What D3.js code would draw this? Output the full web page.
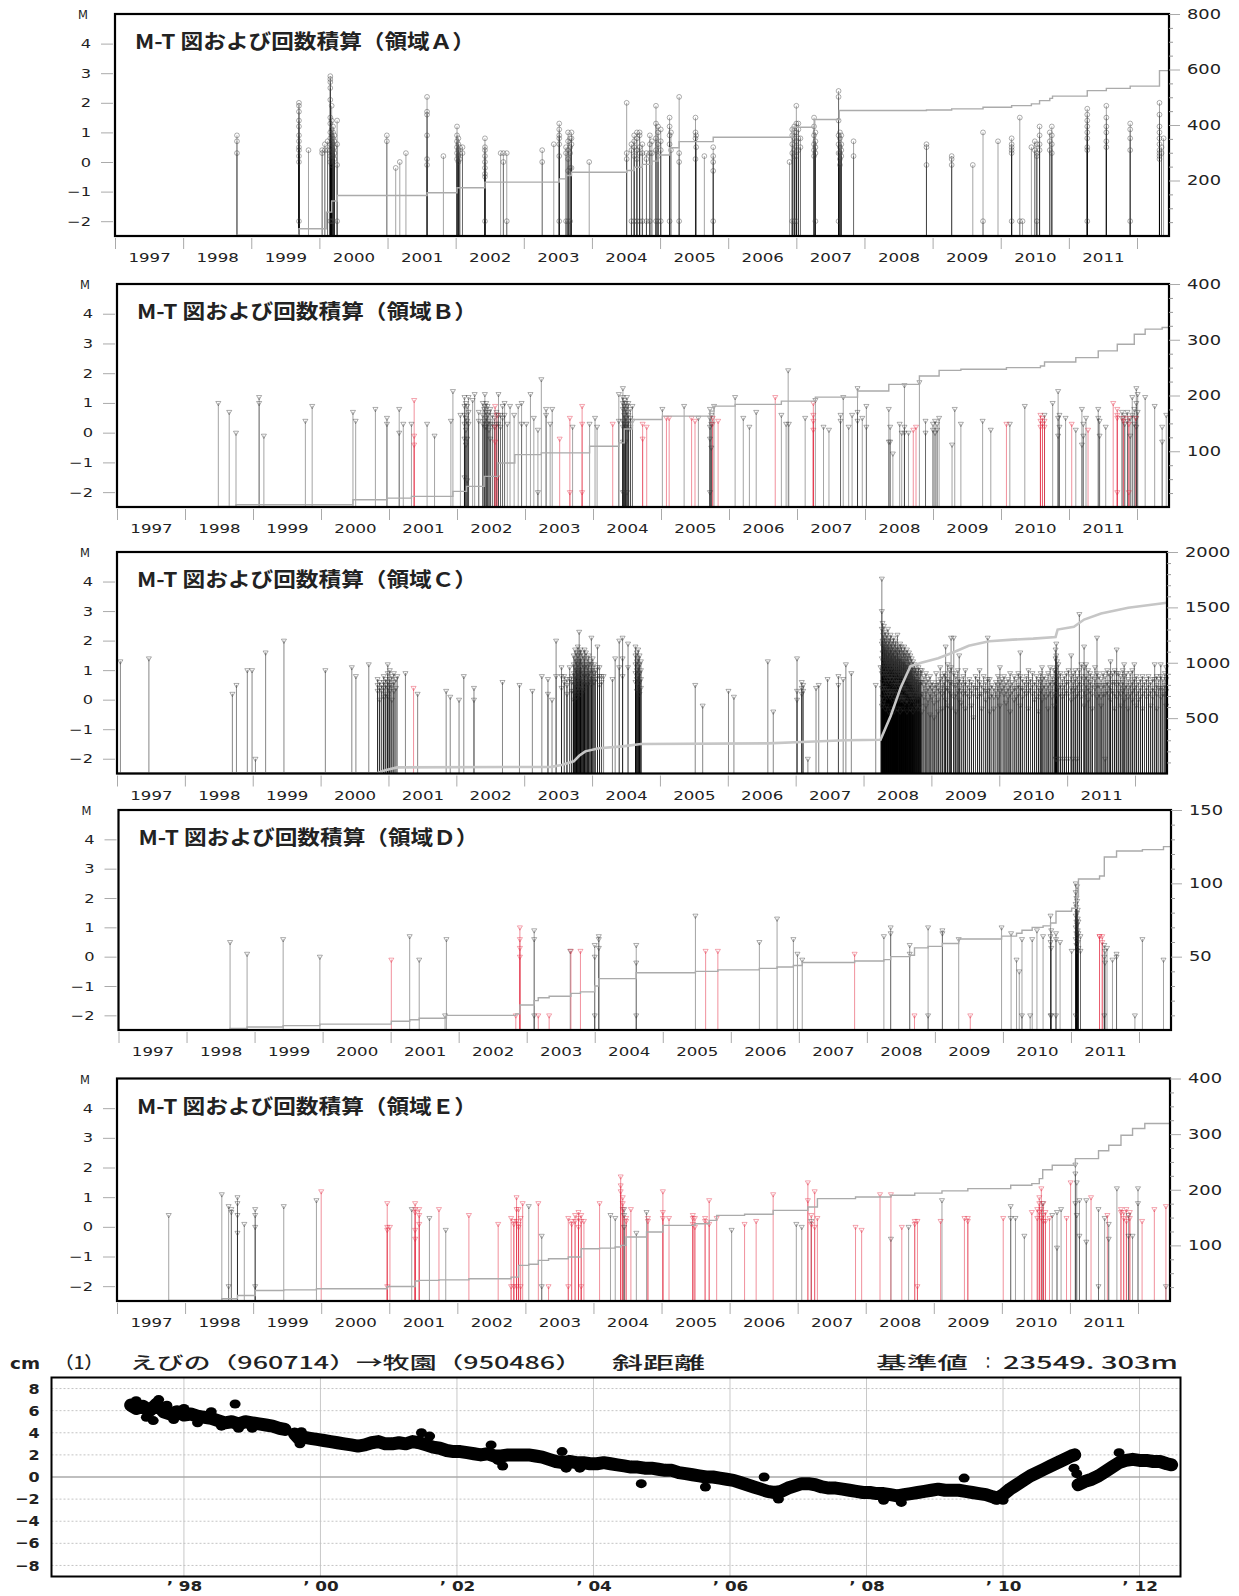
<!DOCTYPE html>
<html>
<head>
<meta charset="utf-8">
<title>M-T図および回数積算</title>
<script src="https://cdn.jsdelivr.net/npm/d3@7"></script>
<style>
  body { margin: 0; background: #fff; }
  svg { display: block; }
  text { font-family: "DejaVu Sans", sans-serif; fill: #222; }
  .jp { font-family: "Noto Sans CJK JP", sans-serif; }
</style>
</head>
<body>
<div id="chartArea"></div>
<script>
// ---- tick labels ----
var yearTicks = [1997,1998,1999,2000,2001,2002,2003,2004,2005,2006,2007,2008,2009,2010,2011,2012];
var yearLabels = [1997,1998,1999,2000,2001,2002,2003,2004,2005,2006,2007,2008,2009,2010,2011];
var mTicks = [-2,-1,0,1,2,3,4];
var regionNames = ['Ａ','Ｂ','Ｃ','Ｄ','Ｅ'];
var cumTicksA = [200,400,600,800];
var cumTicksB = [100,200,300,400];
var cumTicksC = [500,1000,1500,2000];
var cumTicksD = [50,100,150];
var cumTicksE = [100,200,300,400];
var gpsTicks = [-8,-6,-4,-2,0,2,4,6,8];
var gpsYears = [1998,2000,2002,2004,2006,2008,2010,2012];

// ---- events: [decimal year, [magnitudes of events at that time]] ----
var eventsA = [
 [1998.79,[0.9,0.7,0.3]],
 [1999.70,[2.0,1.9,1.7,1.4,1.2,0.9,0.7,0.5,0.4,0.2,0.0,-2.0]],
 [1999.84,[0.4]],[2000.04,[0.4,0.3]],[2000.08,[0.4,0.6]],[2000.12,[0.7,0.4]],
 [2000.16,[2.9,2.8,2.7,2.5,2.1,1.5,1.3,1.0,0.8,0.6,0.4,0.2,0.0,-2.0]],
 [2000.18,[1.9,1.4,1.1,0.9,0.7,0.5,0.3,0.1,-0.1,-2.0]],
 [2000.20,[1.2,1.0,0.8,0.6,0.4,0.2,-2.0]],
 [2000.22,[0.9,0.7,0.5,0.3,0.1]],
 [2000.26,[1.4,0.6,-0.1,-2.0]],
 [2000.99,[0.9,0.7]],[2001.12,[-0.2]],[2001.18,[0.0]],[2001.27,[0.3]],
 [2001.58,[2.2,1.7,1.6,0.9,0.1,-0.1]],[2001.82,[0.2]],
 [2002.02,[1.2,0.9,0.7,0.5,0.3,0.1]],[2002.04,[0.8,0.6,0.4,0.2,0.0]],[2002.06,[0.5,0.3,0.1]],[2002.10,[0.5,0.3]],
 [2002.43,[0.8,0.5,0.4,0.2,0.0,-0.2,-0.4,-0.5,-2.0]],
 [2002.66,[0.3]],[2002.70,[0.3,0.0]],[2002.75,[0.3,-2.0]],
 [2003.27,[0.4,0.0]],[2003.44,[0.6]],[2003.52,[1.3,1.1,0.9,0.8,0.6,0.2,-2.0]],
 [2003.62,[0.5,0.3,-2.0]],[2003.65,[1.0,0.7,0.4,0.1,-0.3,-2.0]],[2003.68,[0.8,0.5,0.3,-0.2,-2.0]],[2003.70,[1.0,0.8,0.6,-0.2]],
 [2003.96,[0.0]],
 [2004.51,[2.0,0.3,0.1]],[2004.58,[0.6,0.4,-2.0]],[2004.62,[0.9,0.7,0.5,0.2,-2.0]],[2004.66,[1.0,0.8,0.4,0.1,-2.0]],
 [2004.70,[1.0,0.9,0.5,0.3,-2.0]],[2004.74,[0.6,0.3,-2.0]],[2004.80,[0.3,0.1,-2.0]],[2004.85,[0.9,0.6,0.3,-2.0]],
 [2004.88,[0.7,0.3]],[2004.94,[1.9,1.3,0.8,0.4,-2.0]],[2004.97,[1.2,1.0,0.6,0.2,-2.0]],[2005.01,[1.1,0.7,0.4,-2.0]],
 [2005.14,[1.5,1.2,0.9,0.6,-2.0]],[2005.16,[1.0,0.4]],[2005.28,[2.2,0.3,0.0,-2.0]],
 [2005.52,[1.5,1.0,0.8,0.1]],[2005.53,[0.9,0.5]],[2005.65,[0.2]],[2005.78,[0.5,0.2,0.0,-0.3,-2.0]],
 [2006.90,[0.0]],[2006.94,[1.1,0.9,0.6,0.3,-2.0]],[2006.97,[1.2,1.0,0.8,0.4,0.2,-2.0]],
 [2007.00,[1.9,1.3,1.0,0.7,0.5,0.2,-2.0]],[2007.03,[1.3,1.1,0.8,0.4]],[2007.06,[0.8,0.5]],
 [2007.26,[1.5,1.2,0.9,0.6,0.4,0.2]],[2007.28,[1.0,0.7,0.5,0.3,-2.0]],
 [2007.62,[2.4,2.2,1.4,0.9,0.6,0.3,-2.0]],[2007.64,[1.0,0.8,0.5,0.3,0.1,-0.1]],[2007.66,[0.9,0.6,0.4,0.2]],
 [2007.84,[0.7,0.2]],
 [2008.91,[0.6,0.5,-0.1]],[2009.28,[0.2,0.1,-0.1]],[2009.59,[-0.1]],[2009.74,[1.0,-2.0]],[2009.96,[0.7]],
 [2010.16,[0.8,0.6,0.5,0.4,0.3,-2.0]],[2010.28,[1.5,-2.0]],[2010.32,[-2.0]],
 [2010.45,[0.5]],[2010.50,[0.7,0.4]],[2010.53,[0.6,0.3,0.2,-2.0]],[2010.57,[1.2,0.9,0.6,0.4]],
 [2010.72,[1.0,0.7,0.4]],[2010.75,[1.2,0.9,0.6,0.3]],
 [2011.27,[1.8,1.6,1.4,1.2,1.0,0.8,0.5,0.4,-2.0]],
 [2011.55,[1.9,1.5,1.2,1.0,0.7,0.5]],
 [2011.90,[1.3,1.1,0.8,0.4,-2.0]],
 [2012.33,[2.0,1.6,1.2,1.0,0.8,0.6,0.4,0.3,0.2,0.1]],[2012.36,[0.5,0.3]],[2012.39,[0.8]]
];
var eventsARed = [];

var eventsB = [
 [1998.49,[1.0]],[1998.65,[0.7]],[1998.75,[0.0]],[1999.09,[1.2,1.0]],[1999.16,[-0.1]],
 [1999.77,[0.4]],[1999.87,[0.9]],[2000.47,[0.7]],[2000.51,[0.4]],[2000.80,[0.8]],
 [2000.97,[0.5,0.3]],[2001.15,[0.8,0.0]],[2001.21,[0.3]],[2001.33,[0.3]],[2001.56,[0.3]],
 [2001.67,[-0.1]],[2001.91,[0.4]],[2001.94,[1.4]],[2002.05,[0.6]],
 [2002.11,[1.2,0.9,0.6,0.3,-0.2,-1.5]],[2002.13,[1.0,0.5,0.1,-0.4]],[2002.15,[0.9,0.4,-0.2,-1.6]],[2002.17,[1.2,0.7,0.3]],
 [2002.23,[1.1]],[2002.26,[1.3]],[2002.32,[0.7,0.4]],
 [2002.38,[1.0,0.6,0.3]],[2002.40,[0.8,0.4]],[2002.41,[1.3,0.9,0.2]],[2002.43,[1.0,0.7,0.5,0.2]],[2002.45,[0.9,0.6,0.3]],
 [2002.47,[0.7,0.4,0.1]],[2002.49,[0.8,0.3,-0.2]],[2002.52,[0.6,0.3]],[2002.55,[0.5,0.2]],[2002.58,[0.7,0.3]],
 [2002.61,[1.3,0.6,0.3]],[2002.64,[0.6,0.2]],[2002.67,[0.9,0.5]],[2002.70,[1.0,0.6]],[2002.74,[0.3]],[2002.78,[0.9]],[2002.84,[0.6]],
 [2002.90,[0.9]],[2002.95,[1.0,0.3]],[2003.02,[0.3]],[2003.08,[1.3]],[2003.13,[0.5]],[2003.19,[0.1,-2.0]],[2003.24,[1.8]],
 [2003.31,[0.8,0.6]],[2003.37,[0.3]],[2003.40,[0.8]],[2003.70,[0.2]],[2003.95,[0.3]],[2004.03,[0.5]],[2004.06,[0.2]],
 [2004.38,[1.3,0.4]],[2004.44,[1.5,1.2,1.0,0.8,0.4,0.2,-0.3,-2.0]],[2004.46,[1.1,0.9,0.6,0.3,-2.0]],[2004.48,[1.0,0.8,0.5,0.2,-0.3]],
 [2004.50,[1.2,0.9,0.7,0.3,-2.0]],[2004.52,[1.0,0.6,0.4,0.1]],[2004.55,[0.8,0.5,0.2]],[2004.58,[0.9,0.4]],
 [2005.02,[0.8]],[2005.34,[0.9]],[2005.55,[0.5]],[2005.72,[0.8,0.5,0.2,-0.2,-2.0]],[2005.74,[0.6,0.3,-0.5]],[2005.78,[0.9]],
 [2006.09,[1.2]],[2006.21,[0.5]],[2006.30,[0.2]],[2006.40,[0.7]],[2006.77,[0.6]],[2006.84,[0.3]],[2006.87,[2.1]],[2006.88,[0.3]],
 [2007.12,[0.5]],[2007.27,[1.1]],[2007.39,[0.2]],[2007.47,[0.1]],[2007.64,[0.6,0.4]],[2007.68,[1.2]],[2007.76,[0.2]],
 [2007.81,[0.6]],[2007.89,[1.5,0.7,0.4]],[2007.96,[0.5]],[2008.02,[0.9,0.2]],
 [2008.35,[0.8,-0.3]],[2008.37,[0.2,-0.3]],[2008.41,[-0.7]],[2008.51,[0.3]],[2008.54,[0.0]],[2008.58,[1.6,0.2,0.0]],
 [2008.64,[0.0]],[2008.80,[1.7]],[2008.89,[0.4,0.0]],
 [2009.00,[0.3,0.1]],[2009.03,[0.4,0.0]],[2009.06,[0.3,0.1]],[2009.09,[0.5]],[2009.28,[-0.4]],[2009.32,[0.8]],[2009.41,[0.3]],
 [2009.73,[0.4]],[2009.85,[0.1]],[2010.13,[0.3]],[2010.35,[0.9]],[2010.64,[0.6]],[2010.76,[1.0]],[2010.84,[1.4,0.5,-0.1]],
 [2010.86,[0.6,0.2]],[2010.95,[0.5]],[2011.10,[0.1]],[2011.19,[0.8,-0.4]],[2011.21,[0.3,-0.1]],[2011.25,[0.5]],
 [2011.43,[0.8,0.5]],[2011.45,[0.4,-0.1]],[2011.54,[0.2]],
 [2011.78,[0.7,0.5]],[2011.82,[0.6,0.3]],[2011.86,[0.7,0.4]],[2011.90,[0.5,-0.1]],[2011.93,[1.2,0.6]],[2011.96,[0.8,0.3]],
 [2011.99,[1.5,1.0,0.5,0.2]],[2012.01,[1.3,0.7]],[2012.12,[1.2]],[2012.26,[0.9]],[2012.37,[0.2,-0.3]],[2012.43,[0.6]]
];
var eventsBRed = [
 [2001.37,[1.1,-0.1,-0.4]],[2002.56,[0.9,0.2,-0.3]],[2002.59,[0.6,-1.5]],[2003.51,[-0.2]],[2003.66,[0.5,-2.0]],
 [2003.84,[0.9,0.3,-2.0]],[2004.29,[0.3]],[2004.73,[0.3,-0.2]],[2004.79,[0.2]],[2005.08,[0.5]],[2005.12,[0.5]],
 [2005.45,[0.5]],[2005.50,[0.4]],[2005.76,[0.5,0.3]],[2005.84,[0.4]],[2006.68,[1.2]],[2007.24,[1.0,0.6,0.4,0.1]],
 [2008.71,[0.1]],[2008.75,[0.2]],[2010.08,[0.3]],[2010.58,[0.6,0.4,0.2]],[2010.61,[0.5,0.3]],[2010.64,[0.4,0.2]],
 [2011.04,[0.3]],[2011.28,[0.1]],[2011.65,[1.0]],[2011.71,[0.8,0.6,0.5,-2.0]],[2011.80,[0.5,0.4]],
 [2011.88,[0.5,0.3,-2.0]],[2011.98,[0.5]]
];

var eventsC = [
 [1997.05,[1.3]],[1997.47,[1.4]],[1998.70,[0.2]],[1998.76,[0.5]],[1998.92,[1.0]],[1998.99,[1.0]],[1999.04,[-2.0]],
 [1999.19,[1.6]],[1999.46,[2.0]],[2000.07,[1.0]],[2000.46,[1.1]],[2000.52,[0.8]],[2000.71,[1.2]],
 [2000.84,[0.7,0.5,0.3]],[2000.87,[0.6,0.4,0.0]],[2000.90,[0.5,0.3]],[2000.93,[0.8,0.6,0.4,0.1]],[2000.96,[0.7,0.5,0.2]],
 [2000.99,[1.2,0.9,0.6,0.4,0.1]],[2001.02,[1.0,0.7,0.5,0.3]],[2001.05,[0.8,0.5,0.0]],[2001.08,[0.9,0.6,0.3]],
 [2001.11,[0.7,0.4]],[2001.13,[0.8]],
 [2001.25,[0.9]],[2001.43,[0.2]],[2001.85,[0.3]],[2001.91,[0.1]],[2002.04,[0.0]],[2002.11,[0.8]],[2002.26,[0.4,0.0]],
 [2002.68,[0.6]],[2002.93,[0.5]],[2003.12,[0.3]],[2003.26,[0.8]],[2003.35,[0.7,0.2]],[2003.41,[0.0]],[2003.47,[2.0,0.8]],
 [2003.55,[1.1,0.8,0.4]],[2003.59,[0.8,0.6]],[2003.63,[0.7,0.5,0.2]],[2003.67,[1.1,0.7]],[2003.70,[0.8,0.6,0.3]],
 [2003.73,[1.5,1.2,0.9,0.6,0.3,0.0]],[2003.75,[1.7,1.4,1.1,0.8,0.5,0.2]],[2003.77,[1.6,1.3,1.0,0.7,0.4,0.1]],
 [2003.79,[1.8,1.5,1.2,0.9,0.6,0.3]],[2003.81,[2.3,1.6,1.3,1.0,0.7,0.4]],[2003.83,[1.7,1.4,1.1,0.8,0.5,0.2]],
 [2003.85,[1.6,1.3,1.0,0.7,0.4]],[2003.87,[1.5,1.2,0.9,0.6,0.3]],[2003.89,[1.7,1.4,1.1,0.8,0.5]],[2003.91,[1.6,1.2,0.9,0.6]],
 [2003.93,[1.4,1.1,0.8,0.5]],[2003.95,[1.5,1.2,0.9,0.6]],[2003.97,[1.3,1.0,0.7]],[2003.99,[2.1,1.2,0.8,0.5]],
 [2004.01,[1.4,1.0,0.7]],[2004.03,[1.2,0.9,0.6]],[2004.05,[1.0,0.7]],[2004.08,[1.8,1.1,0.8]],[2004.11,[1.1,0.8,0.5]],
 [2004.14,[0.8,0.6]],[2004.17,[0.8]],
 [2004.30,[0.7]],[2004.34,[1.4]],[2004.40,[2.0,1.1]],[2004.45,[2.1,1.4,0.8]],[2004.53,[1.9,1.1]],
 [2004.64,[1.8,1.5,1.2,0.9,0.6]],[2004.66,[1.6,1.3,1.0,0.7,0.3]],[2004.68,[1.7,1.4,1.1,0.8,0.5]],
 [2004.70,[1.5,1.2,0.9,0.6,0.2]],[2004.72,[1.3,1.0,0.7,0.4]],
 [2005.52,[0.5]],[2005.63,[-0.2]],[2006.01,[0.3]],[2006.09,[0.1]],[2006.59,[1.3]],[2006.67,[-0.4]],
 [2007.02,[1.4,0.3,0.0]],[2007.09,[0.6,0.4,0.2]],[2007.11,[0.5,0.3]],[2007.18,[-2.0]],[2007.30,[0.4]],[2007.34,[0.5]],
 [2007.47,[0.7]],[2007.63,[0.8,0.5]],[2007.70,[0.7]],[2007.74,[1.2]],[2007.82,[0.9]],[2008.18,[0.5]],[2008.25,[1.1]],
 [2008.27,[4.1,3.0,2.4,1.9,1.4,0.9,0.4,-0.2]],[2008.28,[2.6,2.0,1.6,1.1,0.6,0.1]],[2008.29,[2.2,1.8,1.3,0.9,0.4,-0.1]],
 [2008.30,[2.5,1.9,1.4,1.0,0.5,0.0]],[2008.31,[2.1,1.7,1.2,0.8,0.3]],[2008.32,[2.3,1.8,1.3,0.9,0.4,-0.3]],
 [2008.33,[2.0,1.6,1.1,0.7,0.2]],[2008.34,[2.2,1.7,1.2,0.8,0.3,-0.2]],[2008.35,[1.9,1.5,1.0,0.6,0.1]],
 [2008.36,[2.4,1.8,1.3,0.9,0.4]],[2008.37,[2.0,1.6,1.1,0.7,0.2,-0.4]],[2008.38,[2.1,1.6,1.2,0.8,0.3]],
 [2008.39,[1.8,1.4,1.0,0.6,0.1]],[2008.40,[2.2,1.7,1.2,0.8,0.3,-0.3]],[2008.41,[1.9,1.5,1.1,0.7,0.2]],
 [2008.42,[2.0,1.6,1.1,0.7,0.3]],[2008.43,[1.8,1.4,1.0,0.5,0.0]],[2008.44,[2.1,1.6,1.2,0.8,0.3]],
 [2008.45,[1.7,1.3,0.9,0.5,0.1,-0.4]],[2008.46,[1.9,1.5,1.0,0.6,0.2]],[2008.47,[2.0,1.5,1.1,0.7,0.3]],
 [2008.48,[1.7,1.3,0.9,0.5,0.0]],[2008.49,[1.8,1.4,1.0,0.6,0.2]],[2008.50,[2.2,1.6,1.1,0.7,0.3,-0.3]],
 [2008.51,[1.6,1.2,0.8,0.4,0.0]],[2008.52,[1.8,1.4,1.0,0.6,0.2]],[2008.53,[1.7,1.3,0.9,0.5,0.1]],
 [2008.54,[1.9,1.4,1.0,0.6,0.2,-0.4]],[2008.55,[1.6,1.2,0.8,0.4,0.0]],[2008.56,[1.8,1.3,0.9,0.5,0.1]],
 [2008.57,[1.5,1.1,0.8,0.4,0.0]],[2008.58,[1.7,1.3,0.9,0.5,0.1,-0.3]],[2008.59,[1.6,1.2,0.8,0.4]],
 [2008.60,[1.8,1.3,0.9,0.5,0.1]],[2008.61,[1.5,1.1,0.7,0.3,-0.1]],[2008.62,[1.6,1.2,0.8,0.4,0.0]],
 [2008.63,[1.4,1.0,0.7,0.3]],[2008.64,[1.7,1.2,0.8,0.4,0.0,-0.4]],[2008.65,[1.5,1.1,0.7,0.3]],
 [2008.66,[1.4,1.0,0.6,0.2]],[2008.67,[1.6,1.1,0.7,0.3,-0.1]],[2008.68,[1.3,0.9,0.6,0.2]],
 [2008.69,[1.5,1.0,0.6,0.2,-0.3]],[2008.70,[1.2,0.9,0.5,0.1]],[2008.71,[1.4,1.0,0.6,0.2]],
 [2008.72,[1.1,0.8,0.4,0.0]],[2008.73,[1.3,0.9,0.5,0.1,-0.4]],[2008.74,[1.0,0.7,0.3]],
 [2008.75,[1.2,0.8,0.4,0.0]],[2008.76,[1.0,0.6,0.2]],[2008.77,[1.1,0.7,0.3,-0.2]],[2008.78,[0.9,0.6,0.2]],
 [2008.79,[1.0,0.7,0.3]],[2008.80,[0.9,0.5,0.1,-0.3]],[2008.81,[1.1,0.6,0.2]],[2008.82,[0.8,0.5,0.1]],
 [2008.83,[0.9,0.6,0.2,-0.2]],[2008.84,[1.0,0.6,0.2]],
 [2008.86,[1.0,0.6,0.2,-0.4]],[2008.89,[0.8,0.5,0.1]],[2008.92,[0.9,0.6,0.3,-0.2]],[2008.95,[0.7,0.4,0.0]],
 [2008.98,[0.8,0.5,0.2,-0.5]],[2009.01,[0.6,0.4,0.1]],[2009.04,[0.5,0.3,-0.1,-0.6]],[2009.07,[0.9,0.5,0.2]],
 [2009.10,[0.6,0.4,0.0,-0.4]],[2009.13,[1.1,0.7,0.3]],[2009.16,[0.8,0.5,0.2,-0.3]],[2009.19,[0.9,0.6,0.3]],
 [2009.21,[1.8,0.8,0.4,0.0]],[2009.24,[1.2,0.7,0.4,-0.2]],[2009.27,[1.0,0.6,0.3]],[2009.29,[2.1,1.1,0.6,0.2,-0.3]],
 [2009.33,[2.1,0.9,0.5,0.1]],[2009.36,[0.8,0.5,0.2,-0.4]],[2009.39,[1.0,0.6,0.3]],[2009.41,[1.5,0.7,0.4,0.0]],
 [2009.44,[0.6,0.3,-0.1]],[2009.47,[0.8,0.5,0.2]],[2009.50,[1.0,0.6,0.3,-0.3]],[2009.53,[0.5,0.2]],
 [2009.56,[0.7,0.4,0.1]],[2009.59,[0.6,0.3,-0.2]],[2009.62,[0.5,0.2,-0.6]],[2009.65,[0.8,0.4]],
 [2009.68,[0.7,0.4,0.1]],[2009.71,[1.0,0.6,0.2]],[2009.74,[0.5,0.2,-0.3]],[2009.77,[0.8,0.4]],
 [2009.80,[0.6,0.3,0.0]],[2009.83,[2.1,0.7,0.3]],[2009.86,[0.7,0.4,0.1,-0.4]],[2009.89,[0.5,0.2]],
 [2009.92,[0.4,0.1,-0.3]],[2009.95,[0.6,0.3]],[2009.98,[0.8,0.5,0.1]],[2010.01,[1.1,0.6,0.3,-0.2]],
 [2010.04,[0.7,0.4]],[2010.07,[0.8,0.5,0.2]],[2010.10,[0.6,0.3,-0.1]],[2010.13,[0.7,0.4,0.1]],
 [2010.16,[0.9,0.5,0.2,-0.4]],[2010.19,[0.6,0.3]],[2010.22,[0.8,0.4,0.0]],[2010.25,[0.7,0.4,0.1]],
 [2010.28,[0.9,0.5,0.2]],[2010.31,[1.6,0.8,0.4,-0.2]],[2010.34,[0.7,0.4,0.1]],[2010.37,[0.6,0.3]],
 [2010.40,[0.8,0.5,0.2]],[2010.43,[1.0,0.6,0.3,-0.3]],[2010.46,[0.7,0.4]],[2010.49,[0.9,0.5,0.2]],
 [2010.52,[0.6,0.3,0.0]],[2010.55,[0.8,0.5,0.1]],[2010.58,[0.7,0.4,0.2,-0.4]],[2010.61,[0.9,0.6,0.3]],
 [2010.63,[1.1,0.7,0.4,0.0]],[2010.66,[0.8,0.5,0.2]],[2010.69,[0.7,0.4,0.1]],[2010.72,[0.9,0.5,0.2,-0.3]],
 [2010.75,[1.1,0.6,0.3]],[2010.78,[0.8,0.5,0.1]],[2010.81,[1.0,0.6,0.2,-0.2]],
 [2010.83,[1.7,1.4,1.0,0.6,0.2,-2.0]],[2010.84,[1.9,1.5,1.1,0.7,0.3,-2.0]],[2010.85,[1.3,0.9,0.5,0.1,-2.0]],
 [2010.87,[1.2,0.8,0.4]],[2010.90,[0.9,0.5,0.2,-2.0]],[2010.93,[0.7,0.4,0.1]],[2010.96,[0.8,0.5,0.2,-2.0]],
 [2010.99,[0.9,0.6,0.3]],[2011.02,[1.0,0.6,0.2,-2.0]],[2011.06,[1.5,0.8,0.4,0.0]],[2011.09,[0.9,0.6,0.3,-2.0]],
 [2011.12,[1.0,0.7,0.4,0.1]],[2011.15,[0.8,0.5,0.2,-2.0]],[2011.18,[2.9,1.0,0.6,0.3]],[2011.21,[1.2,0.8,0.5,0.1]],
 [2011.25,[1.8,1.1,0.7,0.3,-0.2]],[2011.28,[1.2,0.8,0.5,0.2]],[2011.31,[1.0,0.7,0.4,0.0]],[2011.34,[0.9,0.6,0.3]],
 [2011.37,[0.8,0.5,0.2,-0.3]],[2011.41,[1.1,0.7,0.4]],[2011.44,[2.1,0.9,0.5,0.1]],[2011.47,[0.8,0.5,0.2]],
 [2011.50,[0.7,0.4,0.1,-0.2]],[2011.53,[0.9,0.5,0.2]],[2011.56,[0.8,0.5,0.2,-2.0]],[2011.59,[1.0,0.6,0.3]],
 [2011.62,[0.9,0.5,0.2]],[2011.64,[1.3,0.8,0.4,0.0]],[2011.67,[0.9,0.6,0.3]],[2011.70,[1.0,0.6,0.2,-0.3]],
 [2011.73,[1.7,0.9,0.5,0.1]],[2011.76,[0.9,0.6,0.3]],[2011.79,[0.8,0.5,0.2,-0.2]],[2011.82,[1.0,0.6,0.3]],
 [2011.84,[1.2,0.8,0.4,0.0]],[2011.87,[0.9,0.5,0.2]],[2011.90,[0.7,0.4,0.1,-0.3]],[2011.93,[0.9,0.5,0.2]],
 [2011.96,[1.0,0.6,0.3,0.0]],[2011.99,[1.2,0.7,0.4]],[2012.02,[0.8,0.5,0.2,-0.2]],[2012.05,[0.6,0.3,0.0]],
 [2012.08,[0.7,0.4,0.1]],[2012.11,[0.8,0.5,0.2,-0.3]],[2012.14,[0.6,0.3]],[2012.17,[0.7,0.4,0.1]],
 [2012.20,[0.8,0.5,0.2]],[2012.23,[0.6,0.3,-0.2]],[2012.26,[0.7,0.4,0.1]],[2012.29,[1.2,0.7,0.3]],
 [2012.32,[0.8,0.5,0.2,-0.3]],[2012.35,[0.7,0.4]],[2012.38,[1.2,0.8,0.4,0.1]],[2012.41,[0.7,0.4,0.2]],
 [2012.44,[0.9,0.5,0.2]],[2012.46,[1.1,0.7,0.3,-0.2]]
];
var eventsCRed = [[2001.37,[0.4]]];

var eventsD = [
 [1998.64,[0.5]],[1998.89,[0.1]],[1999.42,[0.6]],[1999.96,[0.0]],[2001.28,[0.7]],[2001.42,[-0.1]],[2001.80,[-2.0]],[2001.82,[0.6]],
 [2003.11,[0.9,0.6,-2.0]],[2003.64,[0.2]],[2004.00,[0.4,0.0,-2.0]],[2004.06,[0.7,0.6,0.3]],[2004.61,[0.4,-0.2,-2.0]],
 [2005.48,[1.4]],[2006.42,[0.5]],[2006.68,[1.3]],[2006.92,[0.6]],[2006.98,[0.1]],[2007.05,[-0.1]],
 [2008.25,[0.7]],[2008.35,[1.0,0.8]],[2008.63,[0.4,0.1]],[2008.90,[1.0,-2.0]],[2009.11,[0.9,0.8]],[2009.35,[0.6]],
 [2009.98,[1.0]],[2010.12,[0.8]],[2010.20,[-0.1]],[2010.24,[-0.5]],[2010.28,[0.6,-2.0]],[2010.40,[-2.0]],[2010.43,[0.6]],
 [2010.50,[0.9]],[2010.59,[0.7]],[2010.70,[1.4,0.7,0.5,-2.0]],[2010.71,[0.9,0.3,-2.0]],[2010.78,[0.8,0.6,-2.0]],
 [2010.84,[0.5]],[2011.01,[0.2]],
 [2011.07,[2.5,2.2,1.8,1.4,1.0,0.6,-2.0]],[2011.08,[2.0,1.7,1.2,0.8,0.4]],[2011.09,[2.4,1.9,1.5,1.1,0.7,0.2]],
 [2011.10,[1.6,1.3,0.9,0.5]],[2011.11,[1.2,0.8,0.3]],
 [2011.14,[0.7,0.2]],[2011.49,[0.4,0.0,-2.0]],[2011.50,[0.2,-0.2]],[2011.53,[0.3]],[2011.61,[-0.1]],[2011.67,[0.1,0.0]],
 [2011.94,[-2.0]],[2012.05,[0.6]],[2012.36,[-0.1]]
];
var eventsDRed = [
 [2001.01,[-0.1]],[2002.84,[-2.0]],[2002.90,[1.0,0.6,0.3,0.0]],[2003.17,[-2.0]],[2003.33,[-2.0]],[2003.65,[0.2]],
 [2003.79,[0.2]],[2005.63,[0.2]],[2005.81,[0.2]],[2007.82,[0.1]],[2008.70,[-2.0]],[2009.52,[-2.0]],
 [2011.42,[0.7,0.7]],[2011.46,[0.7,0.5]]
];

var eventsE = [
 [1997.76,[0.4]],[1998.54,[1.1]],[1998.64,[0.7,-2.0]],[1998.68,[0.6,0.5]],[1998.77,[1.0,0.8,0.4,-0.2]],[1998.87,[0.1]],
 [1999.03,[0.6,0.4,0.0,-2.0]],[1999.45,[0.7]],[1999.93,[0.9]],
 [2001.33,[0.6]],[2001.59,[0.3]],[2001.83,[-0.1]],[2003.05,[0.7]],[2003.24,[-0.3,-2.0]],[2004.25,[0.4]],[2004.32,[0.3]],
 [2004.45,[0.6,0.4,0.0]],[2004.63,[-0.2]],[2004.78,[0.5]],[2006.03,[-0.1]],[2006.98,[0.1]],[2007.06,[0.0]],[2007.20,[0.2]],
 [2008.37,[-0.4]],[2008.63,[0.0]],[2009.12,[0.9]],[2010.13,[0.7,0.3]],[2010.20,[0.3]],[2010.33,[-0.3]],[2010.60,[0.8]],
 [2010.74,[0.4]],[2010.81,[0.5,-0.7]],[2010.87,[0.6]],[2011.08,[2.1,1.8,0.8]],[2011.10,[1.5,0.4]],[2011.14,[0.9,-0.3]],
 [2011.24,[0.9,-0.5]],[2011.42,[0.6,-2.0]],[2011.51,[0.3]],[2011.57,[0.1,-0.4]],[2011.69,[1.3]],[2011.86,[0.4,-0.3]],
 [2011.92,[-0.3]],[2012.00,[1.3,0.8]],[2012.41,[-2.0]]
];
var eventsERed = [
 [2000.00,[1.2]],[2000.97,[0.8,0.0,-0.1,-2.0]],[2001.01,[0.0]],[2001.38,[0.8,0.6,0.5,-0.1,-0.4]],[2001.44,[0.6,0.4,0.1]],
 [2001.73,[0.6]],[2002.17,[0.4]],[2002.60,[0.1]],[2002.79,[0.3,-2.0]],[2002.83,[0.2,0.1,-2.0]],[2002.87,[1.0,0.6,0.2,-2.0]],
 [2002.90,[0.6,0.1,0.0]],[2002.93,[0.3,-2.0]],[2002.96,[0.8]],[2003.19,[0.8]],[2003.34,[-2.0]],
 [2003.63,[0.3,-2.0]],[2003.68,[0.2,0.1]],[2003.73,[0.4,0.2]],[2003.78,[0.5,0.3,0.0]],[2003.82,[0.4,0.2,-2.0]],[2003.86,[0.2]],
 [2004.09,[0.8]],[2004.40,[1.7,1.4,1.2]],[2004.43,[1.0,0.8,0.6]],[2004.48,[0.3,0.2]],[2004.55,[0.6]],[2004.80,[0.3,0.2]],
 [2005.02,[1.2,0.5,0.3]],[2005.11,[0.3]],[2005.46,[0.4,0.3,0.1]],[2005.49,[0.3,0.0]],[2005.64,[0.3,0.2]],[2005.70,[0.9,0.1]],
 [2005.81,[0.3]],[2006.22,[0.1]],[2006.39,[0.2]],[2006.64,[1.1]],[2007.15,[1.5,0.9]],[2007.20,[0.4,0.1]],[2007.25,[1.2,0.0]],
 [2007.29,[0.3]],[2007.85,[0.0]],[2007.94,[-0.1]],[2008.21,[1.1]],[2008.37,[1.1]],[2008.53,[0.0]],[2008.72,[0.2,0.1]],
 [2008.76,[0.2,-2.0]],[2009.10,[0.2]],[2009.45,[0.3]],[2009.50,[0.3,0.2]],[2010.02,[0.3]],[2010.44,[0.5]],
 [2010.52,[0.6,0.3]],[2010.55,[1.0,0.8,0.5]],[2010.58,[1.3,0.6,0.3]],[2010.61,[0.8,0.4,0.2]],[2010.64,[0.5,0.2]],
 [2010.70,[0.3]],[2010.95,[0.3]],[2011.01,[1.5]],[2011.31,[1.0]],[2011.55,[0.4]],[2011.75,[0.6,0.5]],[2011.79,[0.5,0.3]],
 [2011.83,[0.6,0.2]],[2011.88,[0.5,0.3]],[2012.06,[0.2]],[2012.24,[0.6]],[2012.41,[0.7]]
];

// ---- cumulative counts: [decimal year, count] ----
var cumA = [[1997.0,0],[1998.79,3],[1999.70,26],[2000.10,86],[2000.18,126],[2000.26,146],[2001.58,156],[2002.02,174],
 [2002.43,194],[2003.52,206],[2003.62,218],[2003.70,230],[2004.51,236],[2004.62,248],[2004.74,258],[2004.88,270],
 [2004.97,292],[2005.14,318],[2005.28,340],[2005.78,356],[2006.94,392],[2007.27,420],[2007.63,452],[2008.91,454],
 [2009.28,458],[2009.74,464],[2010.16,470],[2010.45,476],[2010.57,488],[2010.72,496],[2010.76,504],[2011.27,524],
 [2011.55,532],[2011.90,540],[2012.33,596],[2012.47,600]];
var cumB = [[1997.0,0],[1998.49,1],[1998.75,4],[2000.47,13],[2000.97,16],[2001.33,19],[2001.94,28],[2002.14,37],
 [2002.40,55],[2002.60,79],[2002.85,94],[2003.24,97],[2003.95,109],[2004.38,115],[2004.46,140],[2004.58,157],
 [2005.02,163],[2005.72,172],[2005.78,181],[2006.09,184],[2006.77,190],[2007.27,197],[2007.89,208],[2008.35,220],
 [2008.80,235],[2009.09,245],[2009.41,247],[2010.08,250],[2010.58,253],[2010.64,260],[2011.10,268],[2011.43,280],
 [2011.71,292],[2011.96,310],[2012.12,319],[2012.37,322],[2012.47,328]];
var cumC = [[1997.0,0],[2000.84,5],[2000.95,30],[2001.13,55],[2003.40,60],[2003.55,77],[2003.73,110],[2003.81,160],
 [2003.90,200],[2004.10,228],[2004.45,245],[2004.72,267],[2006.59,272],[2007.09,285],[2007.74,300],[2008.25,305],
 [2008.40,520],[2008.55,780],[2008.69,968],[2008.85,1000],[2009.10,1040],[2009.30,1088],[2009.55,1154],[2009.85,1194],
 [2010.20,1209],[2010.50,1218],[2010.83,1233],[2010.86,1300],[2011.10,1324],[2011.25,1390],[2011.50,1445],
 [2011.90,1496],[2012.47,1541]];
var cumD = [[1997.0,0],[1998.64,1],[1998.89,2],[1999.42,3],[1999.96,4],[2001.01,6],[2001.28,7],[2001.42,8],[2001.82,10],
 [2002.84,11],[2002.90,17],[2003.11,20],[2003.17,22],[2003.33,23],[2003.65,25],[2003.79,26],[2004.00,30],[2004.06,35],
 [2004.61,39],[2005.48,40],[2005.81,41],[2006.42,42],[2006.68,43],[2006.92,44],[2007.05,46],[2007.82,47],[2008.25,48],
 [2008.35,50],[2008.63,51],[2008.70,56],[2008.90,57],[2009.11,59],[2009.35,62],[2009.98,64],[2010.20,66],[2010.28,68],
 [2010.43,70],[2010.59,71],[2010.70,73],[2010.78,81],[2011.01,83],[2011.08,91],[2011.11,103],[2011.42,105],
 [2011.49,118],[2011.67,122],[2012.05,123],[2012.36,125],[2012.47,126]];
var cumE = [[1997.0,0],[1997.76,1],[1998.54,4],[1998.77,10],[1999.03,19],[1999.45,20],[1999.93,22],[2000.97,26],
 [2001.38,36],[2001.44,37],[2001.73,38],[2002.17,40],[2002.79,43],[2002.90,64],[2003.05,66],[2003.19,73],[2003.34,76],
 [2003.63,79],[2003.82,94],[2004.09,95],[2004.32,97],[2004.40,100],[2004.48,115],[2004.78,124],[2005.02,136],
 [2005.49,139],[2005.70,145],[2005.81,154],[2006.22,156],[2006.64,163],[2007.15,169],[2007.29,184],[2007.85,187],
 [2008.37,190],[2008.72,194],[2009.12,198],[2009.50,202],[2010.13,208],[2010.44,211],[2010.55,220],[2010.60,236],
 [2010.74,244],[2011.08,256],[2011.42,270],[2011.57,280],[2011.75,298],[2011.92,310],[2012.10,319],[2012.47,325]];

// ---- GPS baseline (cm): null marks a break in the series ----
var gpsSeries = [
 [1997.22,6.5],[1997.30,6.2],[1997.40,6.4],[1997.50,6.0],[1997.60,6.6],[1997.70,5.9],[1997.80,5.7],[1997.90,5.9],
 [1998.00,5.6],[1998.10,5.7],[1998.20,5.5],[1998.30,5.4],[1998.40,5.3],[1998.50,5.1],[1998.60,4.9],[1998.70,5.0],
 [1998.80,4.8],[1998.90,5.0],[1999.00,4.9],[1999.10,4.8],[1999.20,4.7],[1999.30,4.6],[1999.40,4.4],[1999.48,4.3],
 [1999.55,null],
 [1999.62,3.9],[1999.68,3.5],[1999.75,3.6],[1999.85,3.5],[1999.95,3.4],[2000.05,3.3],[2000.15,3.2],[2000.25,3.1],
 [2000.35,3.0],[2000.45,2.9],[2000.55,2.8],[2000.65,2.9],[2000.75,3.1],[2000.85,3.2],[2000.95,3.0],[2001.05,3.0],
 [2001.15,3.1],[2001.25,3.0],[2001.35,3.2],[2001.45,3.1],[2001.55,2.9],[2001.65,2.7],[2001.75,2.6],[2001.85,2.4],
 [2001.95,2.3],[2002.05,2.3],[2002.15,2.2],[2002.25,2.1],[2002.35,2.0],[2002.45,2.1],[2002.55,1.9],[2002.65,1.9],
 [2002.75,2.0],[2002.85,2.0],[2002.95,2.0],[2003.05,2.0],[2003.15,1.9],[2003.25,1.8],[2003.35,1.6],[2003.45,1.4],
 [2003.55,1.3],[2003.65,1.4],[2003.75,1.3],[2003.85,1.3],[2003.95,1.2],[2004.05,1.2],[2004.15,1.3],[2004.25,1.2],
 [2004.35,1.1],[2004.45,1.0],[2004.55,0.9],[2004.65,0.9],[2004.75,0.8],[2004.85,0.8],[2004.95,0.7],[2005.05,0.6],
 [2005.15,0.6],[2005.25,0.4],[2005.35,0.3],[2005.45,0.2],[2005.55,0.1],[2005.65,0.0],[2005.75,0.0],[2005.85,-0.1],
 [2005.95,-0.2],[2006.05,-0.3],[2006.15,-0.5],[2006.25,-0.7],[2006.35,-0.9],[2006.45,-1.1],[2006.55,-1.3],[2006.65,-1.4],
 [2006.75,-1.3],[2006.85,-1.0],[2006.95,-0.8],[2007.05,-0.6],[2007.15,-0.6],[2007.25,-0.7],[2007.35,-0.9],[2007.45,-1.0],
 [2007.55,-1.0],[2007.65,-1.1],[2007.75,-1.2],[2007.85,-1.3],[2007.95,-1.4],[2008.05,-1.4],[2008.15,-1.5],[2008.25,-1.5],
 [2008.35,-1.6],[2008.45,-1.7],[2008.55,-1.6],[2008.65,-1.5],[2008.75,-1.4],[2008.85,-1.3],[2008.95,-1.2],[2009.05,-1.1],
 [2009.15,-1.2],[2009.25,-1.2],[2009.35,-1.2],[2009.45,-1.3],[2009.55,-1.4],[2009.65,-1.5],[2009.75,-1.6],[2009.85,-1.8],
 [2009.92,-1.9],[2010.00,-1.6],[2010.10,-1.1],[2010.20,-0.7],[2010.30,-0.3],[2010.40,0.1],[2010.50,0.4],[2010.60,0.7],
 [2010.70,1.0],[2010.80,1.3],[2010.90,1.6],[2011.00,1.9],[2011.05,2.0],
 [2011.07,null],
 [2011.10,-0.7],[2011.20,-0.4],[2011.30,-0.2],[2011.40,0.1],[2011.50,0.5],[2011.60,0.9],[2011.70,1.3],[2011.80,1.5],
 [2011.90,1.6],[2012.00,1.5],[2012.10,1.5],[2012.20,1.4],[2012.30,1.4],[2012.40,1.2],[2012.47,1.1]
];
var gpsExtra = [
 [1997.30,6.9],[1997.45,5.4],[1997.55,5.1],[1997.63,7.0],[1997.75,6.5],[1997.85,5.2],[1998.00,6.2],[1998.20,4.9],
 [1998.40,5.9],[1998.55,4.6],[1998.75,6.6],[1998.80,4.4],[1999.00,4.4],[1999.70,3.0],[1999.72,4.1],[2001.48,4.0],
 [2001.60,3.7],[2002.50,2.9],[2002.67,1.0],[2002.60,1.5],[2003.54,2.3],[2003.60,0.8],[2003.80,0.8],[2004.70,-0.6],
 [2005.64,-0.9],[2006.50,0.0],[2006.71,-2.0],[2008.25,-2.1],[2008.51,-2.3],[2009.43,-0.1],[2009.90,-2.1],[2010.00,-2.1],
 [2011.04,0.8],[2011.08,0.3],[2011.70,2.2]
];

// ---- layout ----
var width = 1239, height = 1596;
var panels = [
 {events: eventsA, red: eventsARed, cum: cumA, cmax: 800, cticks: cumTicksA, minor: 50, circles: true, op: 0.36,
  top: 14, bottom: 236, left: 115, right: 1169, x2012: 1137},
 {events: eventsB, red: eventsBRed, cum: cumB, cmax: 400, cticks: cumTicksB, minor: 25, op: 0.36,
  top: 284, bottom: 507, left: 117, right: 1169, x2012: 1137},
 {events: eventsC, red: eventsCRed, cum: cumC, cmax: 2000, cticks: cumTicksC, minor: 100, linear: true, op: 0.48,
  top: 552, bottom: 773.5, left: 117, right: 1167, x2012: 1135},
 {events: eventsD, red: eventsDRed, cum: cumD, cmax: 150, cticks: cumTicksD, minor: 10, op: 0.36,
  top: 810, bottom: 1030, left: 118.5, right: 1171, x2012: 1139},
 {events: eventsE, red: eventsERed, cum: cumE, cmax: 400, cticks: cumTicksE, minor: 25, op: 0.36,
  top: 1078.5, bottom: 1301, left: 117, right: 1170, x2012: 1138}
];

var svg = d3.select('#chartArea').append('svg')
    .attr('width', width)
    .attr('height', height);

// widen text horizontally like the scanned original
function stretch(sel, sx) {
  sel.each(function () {
    var t = d3.select(this);
    var xv = +t.attr('x') || 0;
    t.attr('x', xv / sx).attr('transform', 'scale(' + sx + ',1)');
  });
}

function flatten(list, red) {
  var out = [];
  list.forEach(function (e) {
    e[1].forEach(function (m) { out.push({t: e[0], m: m, red: red}); });
  });
  return out;
}

function drawMT(p, i) {
  var g = svg.append('g');
  var x = d3.scaleLinear().domain([1997, 2012]).range([p.left, p.x2012]);
  var y = d3.scaleLinear().domain([-2.5, 5]).range([p.bottom, p.top]);
  var yc = d3.scaleLinear().domain([0, p.cmax]).range([p.bottom, p.top]);

  var all = flatten(p.events, false).concat(flatten(p.red, true));

  // stems
  g.append('g').selectAll('line').data(all).join('line')
      .attr('x1', function (d) { return x(d.t); })
      .attr('x2', function (d) { return x(d.t); })
      .attr('y1', p.bottom)
      .attr('y2', function (d) { return y(d.m); })
      .attr('stroke', function (d) { return d.red ? '#e4233b' : '#000'; })
      .attr('stroke-opacity', function (d) { return d.red ? 0.5 : p.op; })
      .attr('stroke-width', 1);

  // markers
  if (p.circles) {
    g.append('g').selectAll('circle').data(all).join('circle')
        .attr('cx', function (d) { return x(d.t); })
        .attr('cy', function (d) { return y(d.m); })
        .attr('r', 2.4)
        .attr('fill', 'none')
        .attr('stroke', '#444')
        .attr('stroke-opacity', 0.55)
        .attr('stroke-width', 0.8);
  } else {
    var tri = d3.symbol().type(d3.symbolTriangle).size(11);
    g.append('g').selectAll('path').data(all).join('path')
        .attr('transform', function (d) { return 'translate(' + x(d.t) + ',' + y(d.m) + ') rotate(180)'; })
        .attr('d', tri)
        .attr('fill', 'none')
        .attr('stroke', function (d) { return d.red ? '#e4233b' : '#333'; })
        .attr('stroke-opacity', 0.5)
        .attr('stroke-width', 0.8);
  }

  // cumulative count
  var line = d3.line()
      .x(function (d) { return x(d[0]); })
      .y(function (d) { return yc(d[1]); })
      .curve(p.linear ? d3.curveLinear : d3.curveStepAfter);
  g.append('path').datum(p.cum)
      .attr('d', line)
      .attr('fill', 'none')
      .attr('stroke', p.linear ? '#c6c6c6' : '#ababab')
      .attr('stroke-width', p.linear ? 2.6 : 1.4);

  // frame
  g.append('rect')
      .attr('x', p.left).attr('y', p.top)
      .attr('width', p.right - p.left).attr('height', p.bottom - p.top)
      .attr('fill', 'none').attr('stroke', '#000').attr('stroke-width', 2.2);

  // left M axis
  var ga = g.append('g').attr('transform', 'translate(' + (p.left - 2) + ',0)')
      .call(d3.axisLeft(y).tickValues(mTicks).tickSize(12).tickPadding(10));
  ga.select('.domain').remove();
  ga.selectAll('line').attr('stroke', '#aaa');
  ga.selectAll('text').style('font-size', '12.5px').attr('fill', '#222');
  stretch(ga.selectAll('text'), 1.3);
  g.append('text').attr('x', p.left - 32).attr('y', p.top + 5)
      .attr('text-anchor', 'middle').style('font-size', '11.5px').text('M');

  // right count axis
  var minorVals = d3.range(p.minor, p.cmax, p.minor).filter(function (v) { return p.cticks.indexOf(v) < 0; });
  var gm = g.append('g').attr('transform', 'translate(' + p.right + ',0)')
      .call(d3.axisRight(yc).tickValues(minorVals).tickSize(4).tickFormat(''));
  gm.select('.domain').remove();
  gm.selectAll('line').attr('stroke', '#999');
  var gr = g.append('g').attr('transform', 'translate(' + p.right + ',0)')
      .call(d3.axisRight(yc).tickValues(p.cticks).tickSize(11).tickPadding(7).tickFormat(d3.format('d')));
  gr.select('.domain').remove();
  gr.selectAll('line').attr('stroke', '#aaa');
  gr.selectAll('text').style('font-size', '13.5px').attr('fill', '#222');
  stretch(gr.selectAll('text'), 1.32);

  // year ticks and labels
  var gt = g.append('g').attr('transform', 'translate(0,' + (p.bottom + 2) + ')')
      .call(d3.axisBottom(x).tickValues(yearTicks).tickSize(11).tickFormat(''));
  gt.select('.domain').remove();
  gt.selectAll('line').attr('stroke', '#aaa');
  var gl = g.append('g').attr('transform', 'translate(0,' + p.bottom + ')')
      .call(d3.axisBottom(x).tickValues(yearLabels.map(function (v) { return v + 0.5; }))
        .tickSize(0).tickPadding(17).tickFormat(function (d) { return String(Math.floor(d)); }));
  gl.select('.domain').remove();
  gl.selectAll('text').style('font-size', '13px').attr('fill', '#222');
  stretch(gl.selectAll('text'), 1.28);

  // title
  g.append('text').attr('class', 'jp')
      .attr('x', p.left + 20).attr('y', p.top + 35)
      .attr('textLength', 340).attr('lengthAdjust', 'spacingAndGlyphs')
      .style('font-size', '20px').style('font-weight', 700).attr('fill', '#111')
      .text('M-T 図および回数積算（領域' + regionNames[i] + '）');
}

panels.forEach(drawMT);

// ---- GPS baseline panel ----
(function () {
  var L = 51.5, R = 1180.5, T = 1377.5, B = 1576.5;
  var g = svg.append('g');
  var x = d3.scaleLinear().domain([1996.06, 2012.6]).range([L, R]);
  var y = d3.scaleLinear().domain([-9, 9]).range([B, T]);

  // grid
  g.append('g').selectAll('line').data(gpsYears).join('line')
      .attr('x1', function (d) { return x(d); }).attr('x2', function (d) { return x(d); })
      .attr('y1', T).attr('y2', B)
      .attr('stroke', '#c8c8c8').attr('stroke-width', 1);
  g.append('g').selectAll('line').data(gpsTicks).join('line')
      .attr('x1', L).attr('x2', R)
      .attr('y1', function (d) { return y(d); }).attr('y2', function (d) { return y(d); })
      .attr('stroke', function (d) { return d === 0 ? '#aaa' : '#c4c4c4'; })
      .attr('stroke-width', function (d) { return d === 0 ? 1.3 : 1; })
      .attr('stroke-dasharray', function (d) { return d === 0 ? null : '2,2'; });

  // series band
  var line = d3.line()
      .defined(function (d) { return d[1] !== null; })
      .x(function (d) { return x(d[0]); })
      .y(function (d) { return y(d[1]); });
  g.append('path').datum(gpsSeries)
      .attr('d', line).attr('fill', 'none')
      .attr('stroke', '#000').attr('stroke-width', 13)
      .attr('stroke-linejoin', 'round').attr('stroke-linecap', 'round');
  var pts = gpsSeries.filter(function (d) { return d[1] !== null; }).concat(gpsExtra);
  g.append('g').selectAll('ellipse').data(pts).join('ellipse')
      .attr('cx', function (d) { return x(d[0]); })
      .attr('cy', function (d) { return y(d[1]); })
      .attr('rx', 5.5).attr('ry', 4.5).attr('fill', '#000');

  // frame
  g.append('rect').attr('x', L).attr('y', T).attr('width', R - L).attr('height', B - T)
      .attr('fill', 'none').attr('stroke', '#000').attr('stroke-width', 2);

  // axes
  var ga = g.append('g').attr('transform', 'translate(' + L + ',0)')
      .call(d3.axisLeft(y).tickValues(gpsTicks).tickSize(0).tickPadding(12));
  ga.select('.domain').remove();
  ga.selectAll('text').style('font-size', '14.5px').style('font-weight', 'bold').attr('fill', '#222');
  stretch(ga.selectAll('text'), 1.1);
  var gb = g.append('g').attr('transform', 'translate(0,' + B + ')')
      .call(d3.axisBottom(x).tickValues(gpsYears).tickSize(0).tickPadding(5)
        .tickFormat(function (d) { return '\u2019 ' + String(d).slice(2); }));
  gb.select('.domain').remove();
  gb.selectAll('text').style('font-size', '14px').style('font-weight', 'bold').attr('fill', '#222');
  stretch(gb.selectAll('text'), 1.2);

  // header
  var base = 1369;
  g.append('text').attr('x', 10).attr('y', base).attr('textLength', 30).attr('lengthAdjust', 'spacingAndGlyphs')
      .style('font-size', '16px').style('font-weight', 'bold').text('cm');
  var hdr = [
    {x: 55, w: 48, s: '（1）'},
    {x: 130, w: 452, s: 'えびの（960714）→牧園（950486）'},
    {x: 612, w: 93, s: '斜距離'},
    {x: 876, w: 92, s: '基準値'},
    {x: 982, w: 12, s: '：'},
    {x: 1003, w: 175, s: '23549. 303m'}
  ];
  g.selectAll('text.hdr').data(hdr).join('text').attr('class', 'jp hdr')
      .attr('x', function (d) { return d.x; }).attr('y', base)
      .attr('textLength', function (d) { return d.w; }).attr('lengthAdjust', 'spacingAndGlyphs')
      .style('font-size', '17px').style('font-weight', 500).attr('fill', '#222')
      .text(function (d) { return d.s; });
})();
</script>
</body>
</html>
